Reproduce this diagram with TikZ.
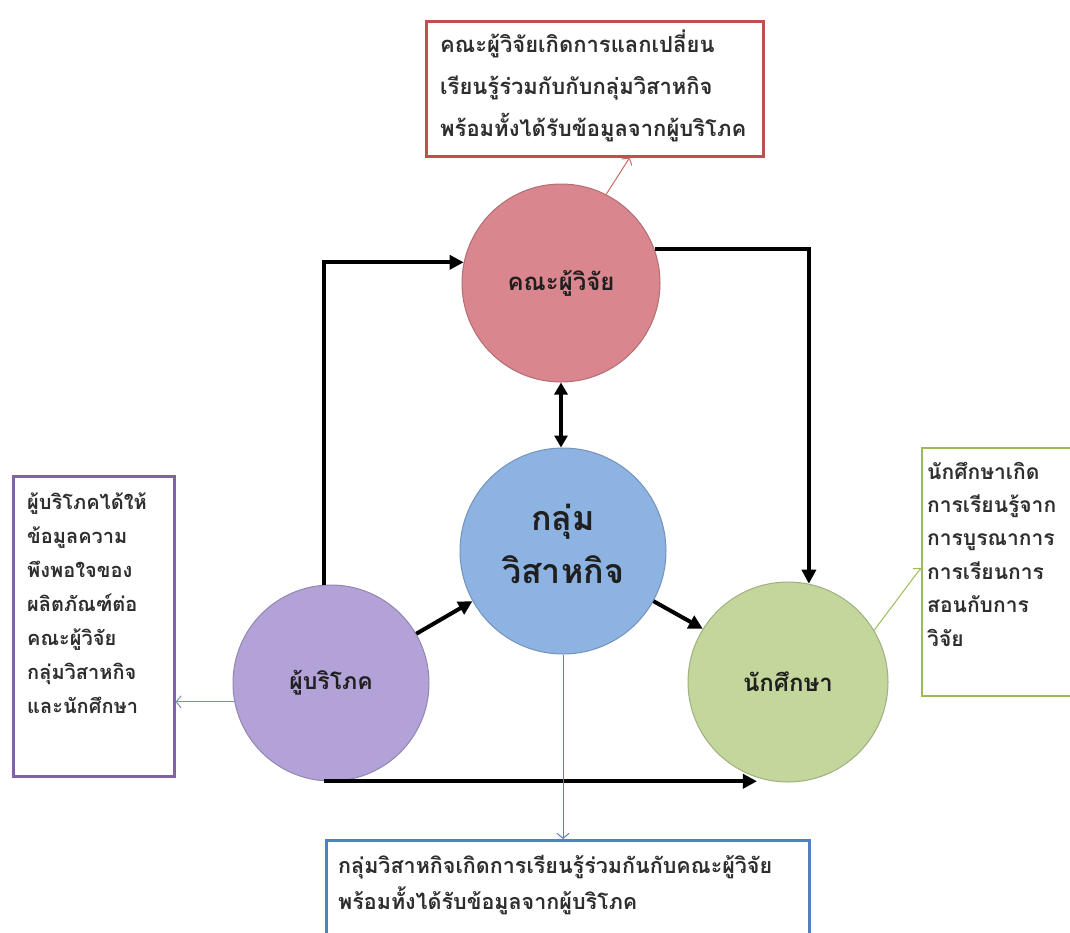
\documentclass[tikz,border=0pt]{standalone}
\usepackage{fontspec}
\newfontfamily\thaifont[Script=Thai]{Loma}
\usetikzlibrary{arrows.meta,calc}

\definecolor{pinkfill}{HTML}{D9868E}
\definecolor{bluefill}{HTML}{8DB3E2}
\definecolor{purplefill}{HTML}{B3A2D7}
\definecolor{greenfill}{HTML}{C3D69B}
\definecolor{redline}{HTML}{C0504D}
\definecolor{purpleline}{HTML}{8064A2}
\definecolor{blueline}{HTML}{4F81BD}
\definecolor{greenline}{HTML}{9BBB59}
\definecolor{slateline}{HTML}{7B8FC7}
\definecolor{textgray}{HTML}{2E2E2E}

\begin{document}
\begin{tikzpicture}[x=1pt,y=-1pt,
  bubble/.style={circle, inner sep=0pt, fill=#1fill, draw=#1fill!82!black,
    line width=1pt, align=center, text=black!88},
  frame/.style={rectangle, draw=#1line, fill=white, anchor=north west, inner sep=0pt},
  notetext/.style={anchor=base west, align=left, inner sep=0pt, text=textgray},
  flow/.style={line width=4pt, -{Triangle[length=14pt,width=14pt]}},
  twoway/.style={line width=4pt, {Triangle[length=12pt,width=13pt]}-{Triangle[length=12pt,width=13pt]}},
  hint/.style={line width=1pt, draw=#1, -{Straight Barb[length=5pt,width=12pt]}}
]
\useasboundingbox (0,0) rectangle (1070,932);

% the four actors
\node[bubble=pink, minimum size=198, font=\thaifont\bfseries\fontsize{24}{28}\selectfont]
  (pink) at (561,283) {คณะผู้วิจัย};
% the extra depth on the last line lifts the two lines a little above the centre
\node[bubble=blue, minimum size=206, font=\thaifont\bfseries\fontsize{34}{53}\selectfont]
  (blue) at (563,551) {กลุ่ม\\วิสาหกิจ\rule[-14pt]{0pt}{14pt}};
\node[bubble=purple, minimum size=196, font=\thaifont\bfseries\fontsize{23}{27}\selectfont]
  (purple) at (331,683) {ผู้บริโภค};
\node[bubble=green, minimum size=200, font=\thaifont\bfseries\fontsize{24}{28}\selectfont]
  (green) at (788,682) {นักศึกษา};

% note frames
\node[frame=red, line width=2.5pt, minimum width=337, minimum height=135] (topbox) at (425,20) {};
\node[frame=purple, line width=2.5pt, minimum width=161, minimum height=300] (leftbox) at (12,475) {};
\node[frame=green, line width=1.5pt, minimum width=175, minimum height=248] (rightbox) at (921,447) {};
\node[frame=blue, line width=2.5pt, minimum width=483, minimum height=115] (bottombox) at (325,839) {};

% note texts
\node[notetext, text width=320, font=\thaifont\bfseries\fontsize{22}{42}\selectfont] (toptext) at (440,52)
  {คณะผู้วิจัยเกิดการแลกเปลี่ยน\\เรียนรู้ร่วมกับกับกลุ่มวิสาหกิจ\\พร้อมทั้งได้รับข้อมูลจากผู้บริโภค};
\node[notetext, text width=140, font=\thaifont\bfseries\fontsize{20}{34}\selectfont] (lefttext) at (27,509)
  {ผู้บริโภคได้ให้\\ข้อมูลความ\\พึงพอใจของ\\ผลิตภัณฑ์ต่อ\\คณะผู้วิจัย\\กลุ่มวิสาหกิจ\\และนักศึกษา};
\node[notetext, text width=160, font=\thaifont\bfseries\fontsize{21}{33.4}\selectfont] (righttext) at (927,479)
  {นักศึกษาเกิด\\การเรียนรู้จาก\\การบูรณาการ\\การเรียนการ\\สอนกับการ\\วิจัย};
\node[notetext, text width=470, font=\thaifont\bfseries\fontsize{21.5}{36}\selectfont] (bottomtext) at (338,873)
  {กลุ่มวิสาหกิจเกิดการเรียนรู้ร่วมกันกับคณะผู้วิจัย\\พร้อมทั้งได้รับข้อมูลจากผู้บริโภค};

% main flows
\draw[flow] (purple.94) |- (pink.168);
\draw[flow] (pink.20) -| (green.78);
\draw[twoway] (pink.south) -- (pink.south |- blue.north);
\draw[flow] (purple.30) -- (blue.209);
\draw[flow] (blue.-29) -- (green.148);
\draw[flow] (purple.266) -- (purple.266 -| green.252);

% links to the notes
\draw[hint=redline!85] (pink.63) -- ($(topbox.south)+(35,0)$);
\draw[hint=slateline] (purple.191) -- (purple.191 -| leftbox.east);
\draw[hint=blueline] (blue.south) -- (blue.south |- bottombox.north);
\draw[hint=greenline] (green.31) -- ($(rightbox.west)+(0,-4)$);
\end{tikzpicture}
\end{document}
